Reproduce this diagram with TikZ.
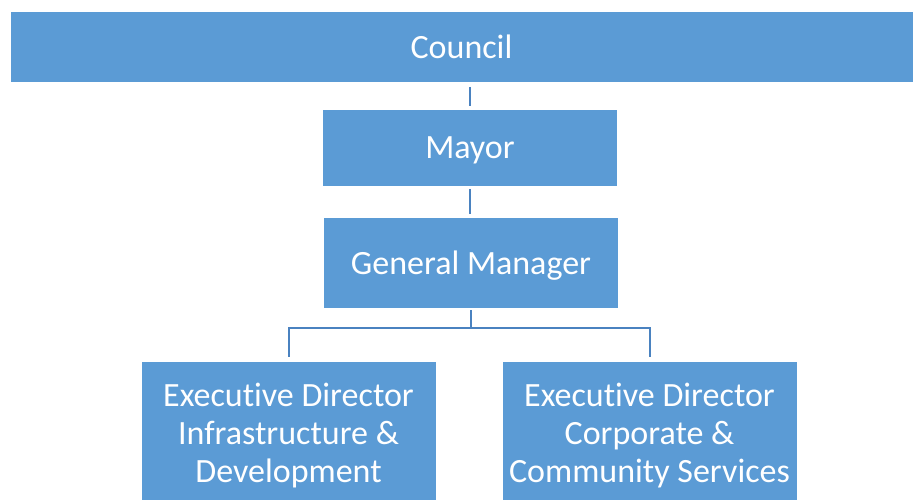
\documentclass[tikz,border=0pt]{standalone}
\usepackage{fontspec}
\setmainfont{Carlito}[Ligatures=NoCommon]
\usetikzlibrary{calc,positioning}
\definecolor{boxblue}{RGB}{91,155,213}
\definecolor{lineblue}{RGB}{74,130,192}
\tikzset{
  orgbox/.style={fill=boxblue,draw=white,line width=0.6pt,text=white,
    font=\fontsize{34}{38}\selectfont,align=center,inner sep=0pt},
  link/.style={draw=lineblue,line width=2pt}
}

\begin{document}
\begin{tikzpicture}[x=1pt,y=-1pt]
          \useasboundingbox (0,0) rectangle (913,499);
          \def\boxw{295}
          \node[orgbox,minimum width=903,minimum height=71] (council) at (461.5,47) {Council};
          \node[orgbox,text depth=0pt,minimum width=\boxw,minimum height=77] (mayor) at (470,147.5) {Mayor};
          \node[orgbox,text depth=0pt,minimum width=\boxw,minimum height=91] (gm) at (471,262.5) {General Manager};
          \node[orgbox,minimum width=\boxw,minimum height=150] (edi) at (288.5,436)
            {Executive Director\\Infrastructure \&\\Development};
          \node[orgbox,minimum width=\boxw,minimum height=150] (ecs) at (649.5,436)
            {Executive Director\\Corporate \&\\Community Services};
          \coordinate (bus) at (0,328);

          \draw[link,shorten <=4pt,shorten >=3pt] (mayor.north |- council.south) -- (mayor.north);
          \draw[link,shorten <=3pt,shorten >=3pt] (mayor.south) -- (mayor.south |- gm.north);
          \draw[link,shorten <=2pt] (gm.south) -- (gm.south |- bus);
          \draw[link,shorten <=4pt,shorten >=4pt] (edi.north) |- (ecs.north |- bus) -- (ecs.north);
        \end{tikzpicture}
\end{document}
